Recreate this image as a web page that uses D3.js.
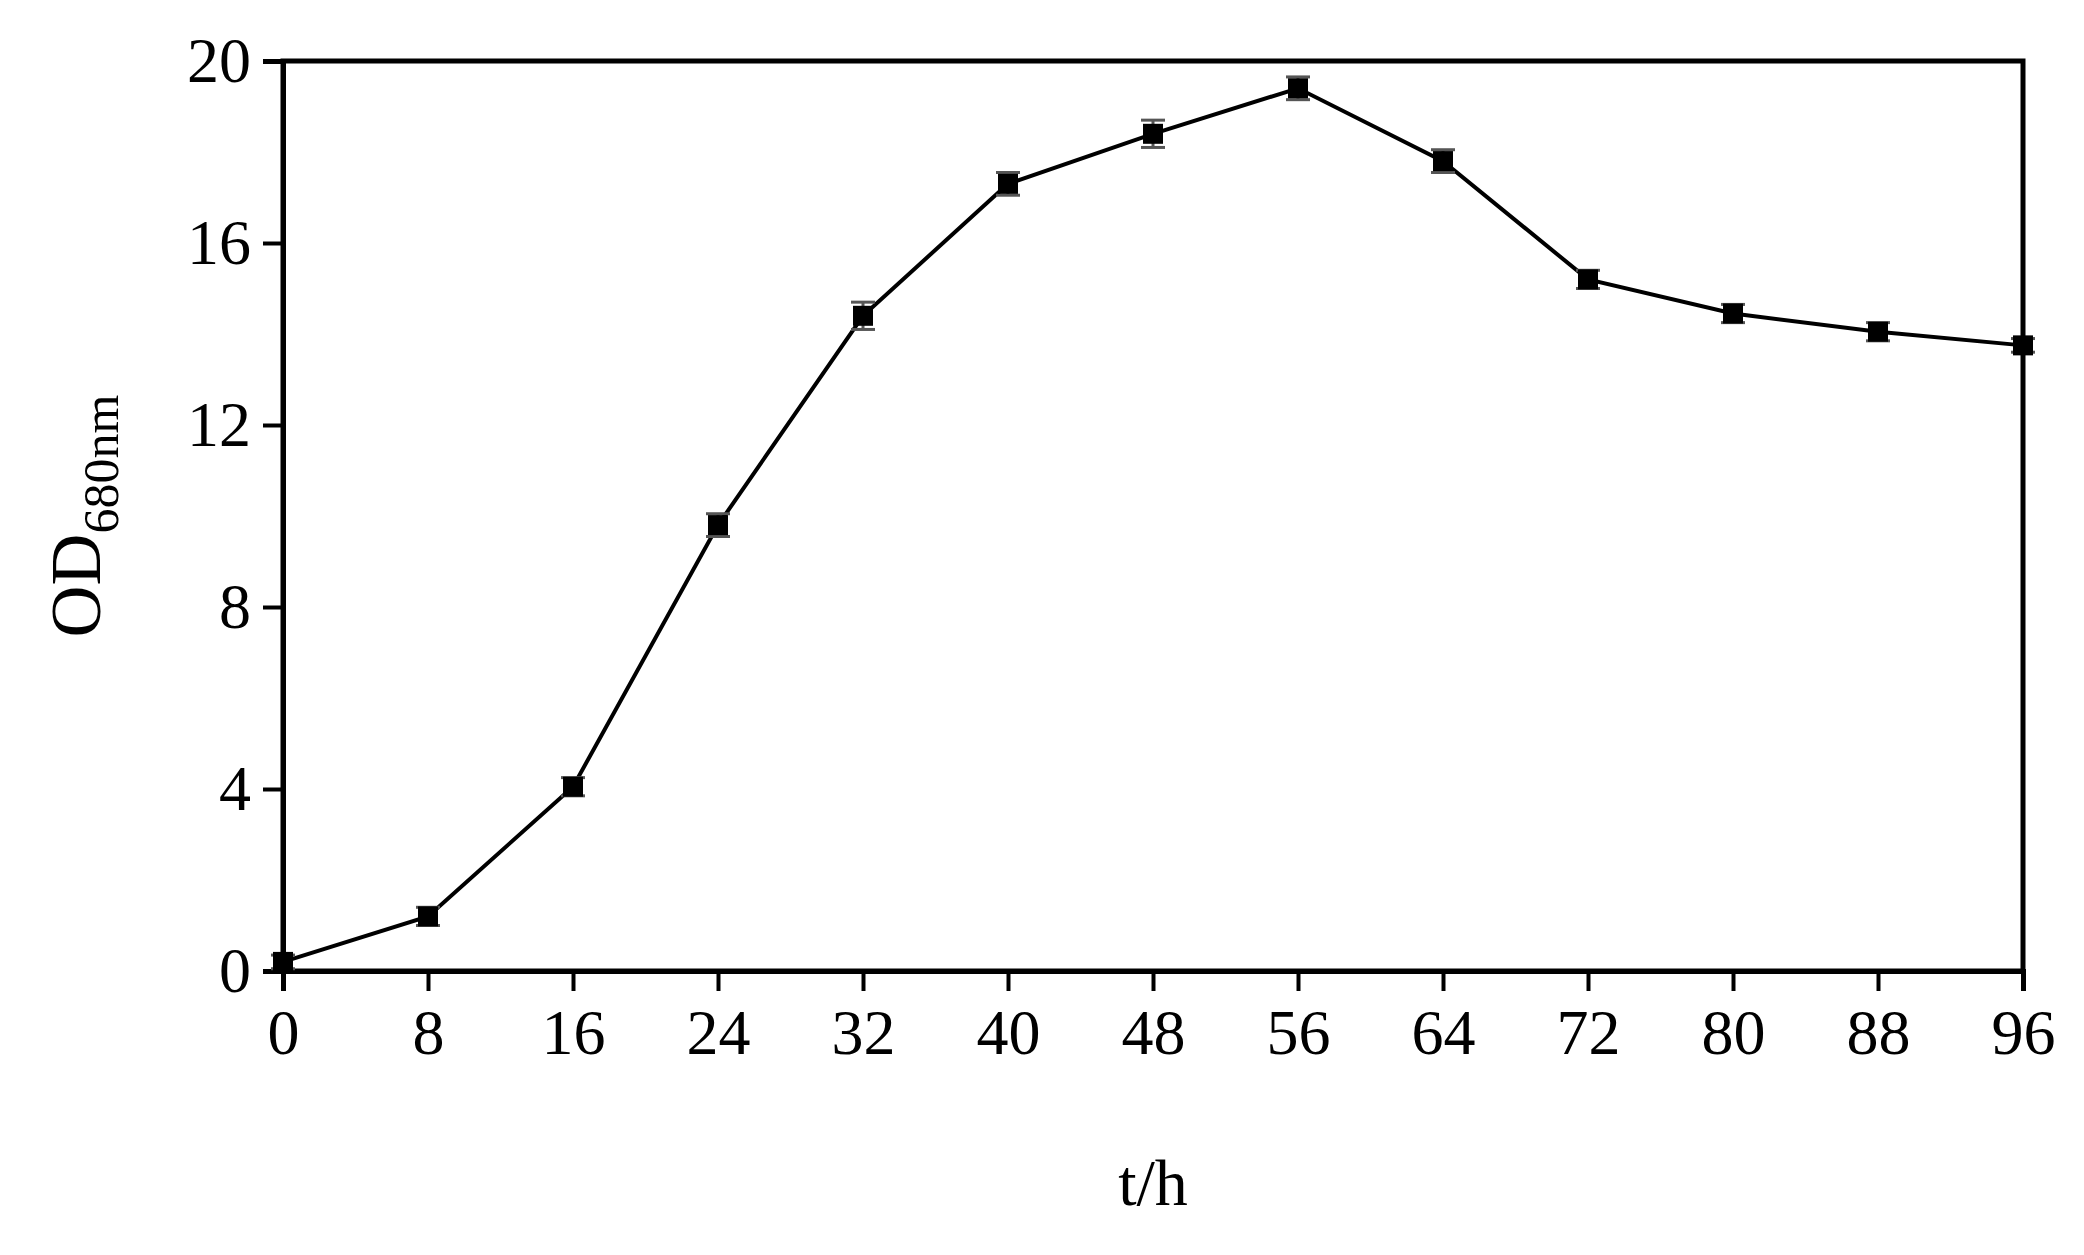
<!DOCTYPE html><html><head><script src="https://cdn.jsdelivr.net/npm/d3@7"></script>
<style>body{margin:0;background:#fff}</style></head><body><script>
const times=[0,8,16,24,32,40,48,56,64,72,80,88,96];
const od=[0.2,1.2,4.05,9.8,14.4,17.3,18.4,19.4,17.8,15.2,14.45,14.05,13.75];
const err=[0.15,0.2,0.2,0.25,0.3,0.25,0.3,0.25,0.25,0.2,0.2,0.2,0.15];
const yTicks=[0,4,8,12,16,20];
const W=2084,H=1255,L=283,R=2023,T=61,B=971;
const svg=d3.select("body").append("svg").attr("width",W).attr("height",H).style("font-family","'Liberation Serif',serif");
const x=d3.scaleLinear().domain([0,96]).range([L,R]);
const y=d3.scaleLinear().domain([0,20]).range([B,T]);
svg.append("rect").attr("x",L).attr("y",T).attr("width",R-L).attr("height",B-T).attr("fill","none").attr("stroke","#000").attr("stroke-width",5);
const xa=svg.append("g").attr("transform",`translate(0,${B})`).call(d3.axisBottom(x).tickValues(times).tickSize(20).tickPadding(18));
const ya=svg.append("g").attr("transform",`translate(${L},0)`).call(d3.axisLeft(y).tickValues(yTicks).tickSize(20).tickPadding(12));
[xa,ya].forEach(a=>{a.select(".domain").attr("stroke-width",5);a.selectAll(".tick line").attr("stroke-width",4);a.selectAll("text").attr("font-size",64).attr("font-family","'Liberation Serif',serif").attr("fill","#000");});
const pts=times.map((t,i)=>[t,od[i],err[i]]);
svg.append("path").datum(pts).attr("d",d3.line().x(d=>x(d[0])).y(d=>y(d[1]))).attr("fill","none").attr("stroke","#000").attr("stroke-width",4);
const g=svg.append("g");
pts.forEach(d=>{const cx=x(d[0]);
g.append("line").attr("x1",cx).attr("x2",cx).attr("y1",y(d[1]+d[2])).attr("y2",y(d[1]-d[2])).attr("stroke","#555").attr("stroke-width",3);
[d[1]+d[2],d[1]-d[2]].forEach(v=>g.append("line").attr("x1",cx-12).attr("x2",cx+12).attr("y1",y(v)).attr("y2",y(v)).attr("stroke","#555").attr("stroke-width",3));
g.append("rect").attr("x",cx-10).attr("y",y(d[1])-10).attr("width",20).attr("height",20).attr("fill","#000");});
svg.append("text").attr("x",(L+R)/2).attr("y",1205).attr("text-anchor","middle").attr("font-size",66).text("t/h");
const yl=svg.append("text").attr("transform",`translate(100,${(T+B)/2}) rotate(-90)`).attr("text-anchor","middle").attr("font-size",72);
yl.append("tspan").text("OD");yl.append("tspan").attr("font-size",50).attr("dy",18).text("680nm");
</script></body></html>
